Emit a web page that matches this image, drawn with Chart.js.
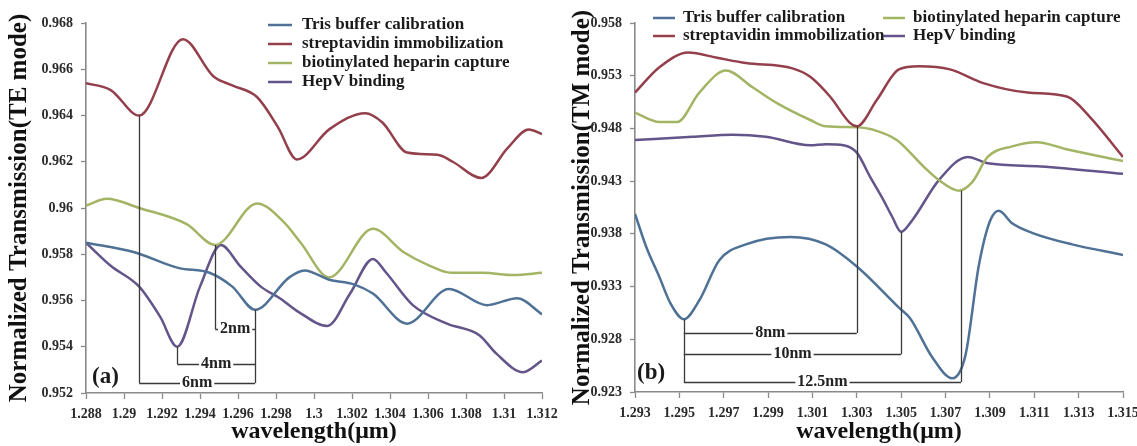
<!DOCTYPE html>
<html><head><meta charset="utf-8">
<script src="https://cdn.jsdelivr.net/npm/chart.js@4.4.1/dist/chart.umd.min.js"></script>
<style>
html,body{margin:0;padding:0;background:#fff;width:1137px;height:446px;overflow:hidden;}
#wa{position:absolute;left:0;top:0;width:565px;height:446px;}
#wb{position:absolute;left:565px;top:0;width:572px;height:446px;}
</style></head><body>
<div id="wa"><canvas id="ca"></canvas></div>
<div id="wb"><canvas id="cb"></canvas></div>
<script>
// ---------- series names ----------
const seriesNames = ['Tris buffer calibration','streptavidin immobilization','biotinylated heparin capture','HepV binding'];

// ---------- panel (a) TE mode ----------
const teTrisX = [1.288,1.2905,1.2929,1.2945,1.2957,1.2969,1.2987,1.2995,1.3008,1.3021,1.3031,1.3049,1.3071,1.3091,1.3107,1.312];
const teTrisY = [0.9585,0.9581,0.9574,0.9572,0.9566,0.9556,0.9570,0.9573,0.9569,0.9567,0.9563,0.9550,0.9565,0.9558,0.9561,0.9554];
const teStrepX = [1.288,1.2893,1.2908,1.2931,1.2947,1.2957,1.2970,1.2981,1.2991,1.3008,1.3027,1.3036,1.3049,1.3065,1.3073,1.3088,1.3102,1.3113,1.312];
const teStrepY = [0.9654,0.9651,0.9640,0.9673,0.9657,0.9653,0.9648,0.9635,0.9621,0.9634,0.9641,0.9637,0.9624,0.9623,0.9620,0.9613,0.9626,0.9634,0.9632];
const teBioX = [1.288,1.2891,1.2908,1.2933,1.2948,1.2970,1.2984,1.2993,1.3008,1.3031,1.3047,1.3061,1.3072,1.3089,1.3105,1.312];
const teBioY = [0.9601,0.9604,0.9600,0.9593,0.9584,0.9602,0.9594,0.9585,0.9570,0.9591,0.9581,0.9575,0.9572,0.9572,0.9571,0.9572];
const teHepX = [1.288,1.2893,1.2908,1.2919,1.2928,1.2940,1.2951,1.2961,1.2972,1.2982,1.2992,1.3007,1.3019,1.3031,1.3038,1.3052,1.3070,1.3087,1.3096,1.3110,1.312];
const teHepY = [0.9585,0.9575,0.9566,0.9553,0.9540,0.9566,0.9584,0.9575,0.9566,0.9561,0.9555,0.9549,0.9563,0.9578,0.9572,0.9558,0.9550,0.9545,0.9537,0.9529,0.9534];
const teXTicks = [1.288,1.29,1.292,1.294,1.296,1.298,1.3,1.302,1.304,1.306,1.308,1.31,1.312];
const teYTicks = [0.952,0.954,0.956,0.958,0.96,0.962,0.964,0.966,0.968];
// shift markers: [wavelength, top value, bottom value]
const teMarkerLines = [[1.2908,0.9640,0.95243],[1.2928,0.9540,0.95325],[1.2948,0.9584,0.95477],[1.2969,0.9556,0.95243]];
const teShiftLabels = ['2nm','4nm','6nm'];
const teShiftFrom = [1.2948,1.2928,1.2908];
const teShiftTo = [1.2969,1.2969,1.2969];
const teShiftLevel = [0.95477,0.95325,0.95243];

// ---------- panel (b) TM mode ----------
const tmTrisX = [1.293,1.2935,1.2941,1.2946,1.2952,1.2959,1.2968,1.2980,1.3000,1.3016,1.3030,1.3049,1.3054,1.3064,1.3073,1.3079,1.3085,1.3090,1.3094,1.3100,1.3109,1.3127,1.315];
const tmTrisY = [0.9399,0.9368,0.9339,0.9314,0.9299,0.9317,0.9355,0.9370,0.9377,0.9370,0.9349,0.9310,0.9300,0.9263,0.9243,0.9265,0.9350,0.9392,0.9402,0.9390,0.9381,0.9370,0.9360];
const tmStrepX = [1.293,1.2941,1.2954,1.2967,1.2980,1.3001,1.3009,1.3018,1.3027,1.3030,1.3039,1.3049,1.3058,1.3072,1.3087,1.3107,1.3125,1.3135,1.315];
const tmStrepY = [0.9514,0.9538,0.9552,0.9547,0.9542,0.9537,0.9529,0.9510,0.9485,0.9482,0.9507,0.9536,0.9539,0.9536,0.9523,0.9514,0.9510,0.9491,0.9453];
const tmBioX = [1.293,1.2941,1.2949,1.2959,1.2971,1.2983,1.2994,1.3009,1.3016,1.3031,1.3037,1.3048,1.3060,1.3067,1.3076,1.3082,1.3089,1.3100,1.3111,1.3125,1.315];
const tmBioY = [0.9495,0.9486,0.9486,0.9514,0.9535,0.9519,0.9504,0.9488,0.9482,0.9481,0.9479,0.9469,0.9444,0.9431,0.9421,0.9429,0.9453,0.9463,0.9467,0.9460,0.9449];
const tmHepX = [1.293,1.2956,1.2974,1.2989,1.3009,1.3016,1.3024,1.3030,1.3036,1.3042,1.3046,1.3050,1.3055,1.3067,1.3080,1.3089,1.3113,1.315];
const tmHepY = [0.9469,0.9472,0.9474,0.9472,0.9464,0.9465,0.9464,0.9457,0.9434,0.9412,0.9396,0.9382,0.9393,0.9431,0.9453,0.9447,0.9444,0.9437];
const tmXTicks = [1.293,1.295,1.297,1.299,1.301,1.303,1.305,1.307,1.309,1.311,1.313,1.315];
const tmYTicks = [0.923,0.928,0.933,0.938,0.943,0.948,0.953,0.958];
const tmMarkerLines = [[1.2952,0.9299,0.92395],[1.3030,0.9482,0.9286],[1.3050,0.9382,0.9266],[1.3077,0.9421,0.92395]];
const tmShiftLabels = ['8nm','10nm','12.5nm'];
const tmShiftFrom = [1.2952,1.2952,1.2952];
const tmShiftTo = [1.3030,1.3050,1.3077];
const tmShiftLevel = [0.9286,0.9266,0.92395];

// ---------- styling ----------
const colors = ['#4f7196','#943f4c','#a3b564','#63558a'];
const SERIF = '"Liberation Serif","Times New Roman",serif';

function pts(xs, ys){ return xs.map((x,i)=>({x:x, y:ys[i]})); }
function fmt(v){ return String(Number(v.toFixed(3))); }

const overlay = {
  id:'overlay',
  afterDatasetsDraw(chart, args, o){
    const ctx = chart.ctx, xs = chart.scales.x, ys = chart.scales.y, ca = chart.chartArea;
    ctx.save();
    ctx.strokeStyle = '#3a3a3a'; ctx.lineWidth = 1.3;
    o.lines.forEach(l=>{
      const x = Math.round(xs.getPixelForValue(l[0]))+0.5;
      ctx.beginPath(); ctx.moveTo(x, ys.getPixelForValue(l[1])); ctx.lineTo(x, ys.getPixelForValue(l[2])); ctx.stroke();
    });
    ctx.font = 'bold 16px '+SERIF;
    ctx.textAlign='center'; ctx.textBaseline='middle';
    o.labels.forEach((t,i)=>{
      const x1 = xs.getPixelForValue(o.from[i]), x2 = xs.getPixelForValue(o.to[i]);
      const y = Math.round(ys.getPixelForValue(o.level[i]))+0.5;
      ctx.strokeStyle='#3a3a3a';
      ctx.beginPath(); ctx.moveTo(x1,y); ctx.lineTo(x2,y); ctx.stroke();
      const cx=(x1+x2)/2, w=ctx.measureText(t).width;
      ctx.fillStyle='#fff'; ctx.fillRect(cx-w/2-2, y-3, w+4, 6);
      ctx.fillStyle='#222'; ctx.fillText(t, cx, y-1);
    });
    ctx.font = 'bold 17px '+SERIF; ctx.textAlign='left';
    o.legend.forEach((it)=>{
      ctx.strokeStyle = colors[it.i]; ctx.lineWidth = 2.5;
      ctx.beginPath(); ctx.moveTo(it.x, it.y); ctx.lineTo(it.x+o.legendLine, it.y); ctx.stroke();
      ctx.fillStyle='#1a1a1a'; ctx.fillText(chart.data.datasets[it.i].label, it.x+o.legendLine+o.legendGap, it.y);
    });
    ctx.font = 'bold 23px '+SERIF; ctx.textAlign='left'; ctx.fillStyle='#1a1a1a';
    ctx.fillText(o.panel, ca.left+o.panelDx, ca.bottom-o.panelDy);
    ctx.restore();
  }
};

function makeChart(id, data, cfg){
  const ds = data.map((d,i)=>({label:seriesNames[i], data:pts(d[0],d[1]), borderColor:colors[i], backgroundColor:colors[i], borderWidth:2.5, pointRadius:0, cubicInterpolationMode:'monotone', fill:false}));
  return new Chart(document.getElementById(id), {
    type:'line',
    data:{datasets:ds},
    options:{
      responsive:true, maintainAspectRatio:false, animation:false, devicePixelRatio:1,
      layout:{padding:cfg.pad},
      plugins:{legend:{display:false}, tooltip:{enabled:false}, overlay:cfg.overlay},
      scales:{
        x:{type:'linear', min:cfg.xTicks[0], max:cfg.xTicks[cfg.xTicks.length-1],
          afterBuildTicks:(s)=>{ s.ticks = cfg.xTicks.map(v=>({value:v})); },
          afterFit:(s)=>{ s.height = cfg.xH; s.paddingLeft=0; s.paddingRight=0; },
          ticks:{callback:(v)=>fmt(v), font:{family:SERIF, size:14, weight:'bold'}, color:'#2a2a2a', maxRotation:0, autoSkip:false, padding:7},
          grid:{drawOnChartArea:false, color:'#8a8a8a', tickLength:6, tickWidth:1.3},
          border:{color:'#8a8a8a', width:1.6},
          title:{display:true, text:'wavelength(\u03bcm)', font:{family:SERIF, size:24, weight:'bold', lineHeight:1}, color:'#111', padding:{top:0,bottom:2}}
        },
        y:{type:'linear', min:cfg.yTicks[0], max:cfg.yTicks[cfg.yTicks.length-1],
          afterBuildTicks:(s)=>{ s.ticks = cfg.yTicks.map(v=>({value:v})); },
          afterFit:(s)=>{ s.width = cfg.yW; s.paddingTop=0; s.paddingBottom=0; },
          ticks:{callback:(v)=>fmt(v), font:{family:SERIF, size:14, weight:'bold'}, color:'#2a2a2a', autoSkip:false, padding:8},
          grid:{drawOnChartArea:false, color:'#8a8a8a', tickLength:5, tickWidth:1.3},
          border:{color:'#8a8a8a', width:1.6},
          title:{display:true, text:cfg.yTitle, font:{family:SERIF, size:25, weight:'bold', lineHeight:1}, color:'#111', padding:{top:cfg.yTitlePad,bottom:0}}
        }
      }
    },
    plugins:[overlay]
  });
}

makeChart('ca', [[teTrisX,teTrisY],[teStrepX,teStrepY],[teBioX,teBioY],[teHepX,teHepY]], {
  pad:{top:23,right:23,left:0,bottom:0}, xH:53, yW:86, xTicks:teXTicks, yTicks:teYTicks,
  yTitle:'Normalized Transmission(TE mode)', yTitlePad:7,
  overlay:{lines:teMarkerLines, labels:teShiftLabels, from:teShiftFrom, to:teShiftTo, level:teShiftLevel,
    legend:[{i:0,x:268,y:25},{i:1,x:268,y:44},{i:2,x:268,y:63},{i:3,x:268,y:82}], legendLine:24, legendGap:10,
    panel:'(a)', panelDx:6, panelDy:16}
});
makeChart('cb', [[tmTrisX,tmTrisY],[tmStrepX,tmStrepY],[tmBioX,tmBioY],[tmHepX,tmHepY]], {
  pad:{top:23,right:14,left:0,bottom:0}, xH:54, yW:70, xTicks:tmXTicks, yTicks:tmYTicks,
  yTitle:'Normalized Transmission(TM mode)', yTitlePad:5,
  overlay:{lines:tmMarkerLines, labels:tmShiftLabels, from:tmShiftFrom, to:tmShiftTo, level:tmShiftLevel,
    legend:[{i:0,x:88,y:18},{i:1,x:88,y:36},{i:2,x:318,y:18},{i:3,x:318,y:36}], legendLine:22, legendGap:8,
    panel:'(b)', panelDx:2, panelDy:19}
});
</script>
</body></html>
